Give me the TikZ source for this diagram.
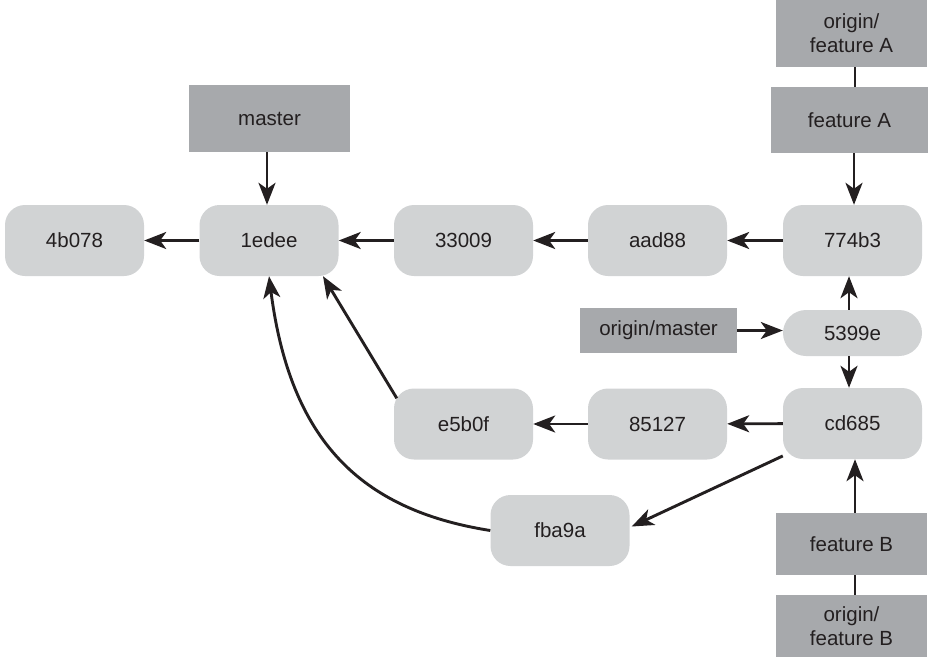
\documentclass[tikz,border=0pt]{standalone}
\usepackage{fontspec}
\setmainfont{Liberation Sans}
\usetikzlibrary{arrows.meta}
\definecolor{commitfill}{HTML}{D1D3D4}
\definecolor{reffill}{HTML}{A7A9AC}
\definecolor{inkc}{HTML}{231F20}
\begin{document}
\begin{tikzpicture}[x=1pt,y=-1pt,
  commit/.style={fill=commitfill, rounded corners=20pt, minimum width=139pt, minimum height=71pt, inner sep=0pt, text=inkc, font=\fontsize{20.5}{24}\selectfont},
  pill/.style={commit, rounded corners=23pt, minimum height=46pt},
  refbox/.style={fill=reffill, inner sep=0pt, text=inkc, align=center, font=\fontsize{20.5}{24}\selectfont},
  arr/.style={line width=2.9pt, draw=inkc, -{Stealth[length=22pt,width=17pt,inset=6pt]}},
  link/.style={line width=2.9pt, draw=inkc}]
\useasboundingbox (0,0) rectangle (928,656);
% commits
\node[commit] (c4b) at (74.5,240.5) {4b078};
\node[commit] (c1e) at (269,240.5) {1edee};
\node[commit] (c330) at (463.5,240.5) {33009};
\node[commit] (caad) at (657.5,240.5) {aad88};
\node[commit] (c774) at (852.5,240.5) {774b3};
\node[pill] (c539) at (852.5,333) {5399e};
\node[commit] (ccd6) at (852.5,423.5) {cd685};
\node[commit] (c851) at (657.5,424) {85127};
\node[commit] (ce5b) at (463.5,424) {e5b0f};
\node[commit] (cfba) at (560,530.5) {fba9a};
% refs
\node[refbox, minimum width=161pt, minimum height=67pt] (master) at (269.5,118.5) {master};
\node[refbox, minimum width=151pt, minimum height=67pt] (ofa) at (851.5,33.5) {origin/\\feature A};
\node[refbox, minimum width=157pt, minimum height=66pt] (fa) at (849.5,120) {feature A};
\node[refbox, minimum width=157pt, minimum height=45pt] (om) at (658.5,330.5) {origin/master};
\node[refbox, minimum width=151pt, minimum height=62pt] (fb) at (851.5,544) {feature B};
\node[refbox, minimum width=151pt, minimum height=62pt] (ofb) at (851.5,626) {origin/\\feature B};
% connectors
\draw[arr] (c1e) -- (c4b);
\draw[arr] (c330) -- (c1e);
\draw[arr] (caad) -- (c330);
\draw[arr] (c774) -- (caad);
\draw[arr] (267,0 |- master.south) -- (267,0 |- c1e.north);
\draw[link] (855,0 |- ofa.south) -- (855,0 |- fa.north);
\draw[arr] (854,0 |- fa.south) -- (854,0 |- c774.north);
\draw[arr] (om.east) -- (om.east -| c539.west);
\draw[arr] (849,0 |- c539.north) -- (849,0 |- c774.south);
\draw[arr] (849,0 |- c539.south) -- (849,0 |- ccd6.north);
\draw[arr] (ccd6) -- (c851);
\draw[arr] (c851) -- (ce5b);
\draw[arr] ([xshift=3pt,yshift=-10pt]ce5b.north west) -- ([xshift=54pt]c1e.south);
\draw[arr] (ccd6) -- ([xshift=2pt,yshift=4pt]cfba.east);
\draw[arr] (cfba.west) .. controls (360,510) and (290,440) .. (c1e.south);
\draw[arr] (855,0 |- fb.north) -- (855,0 |- ccd6.south);
\draw[link] (855,0 |- ofb.north) -- (855,0 |- fb.south);
\end{tikzpicture}
\end{document}
